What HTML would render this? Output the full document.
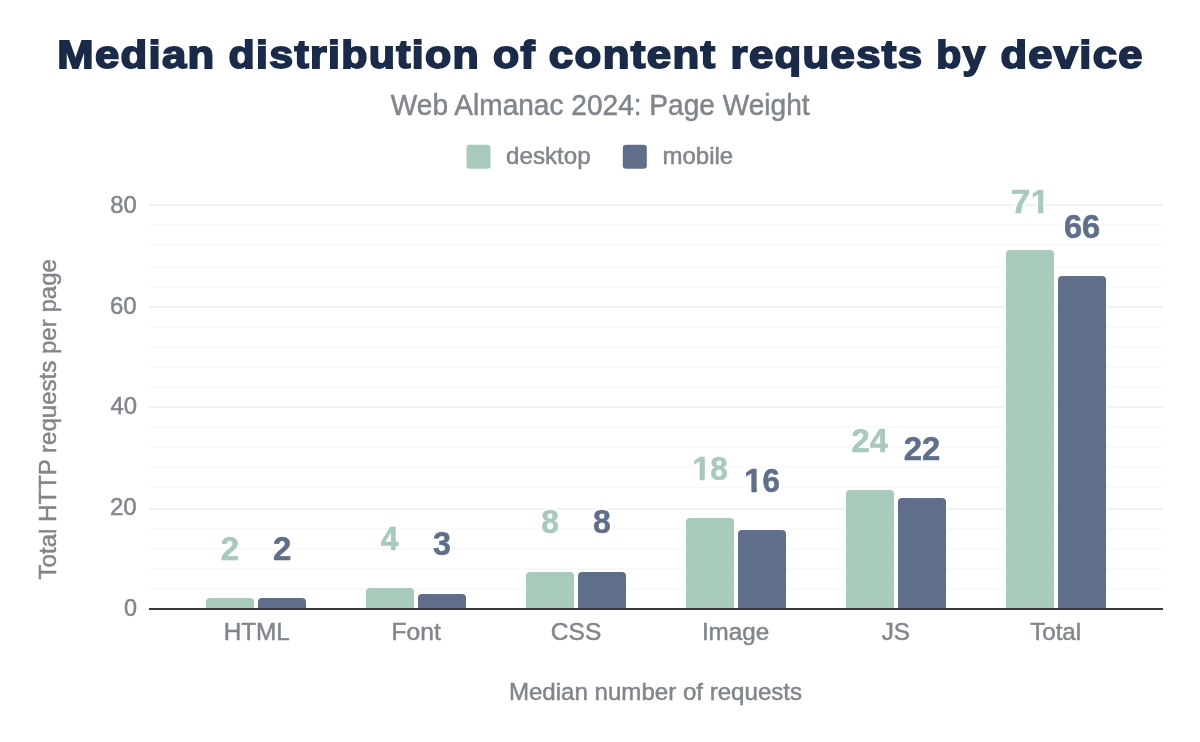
<!DOCTYPE html>
<html lang="en">
<head>
<meta charset="utf-8">
<title>Median distribution of content requests by device</title>
<style>
html,body{margin:0;padding:0;background:#fff;}
body{width:1200px;height:742px;overflow:hidden;font-family:"Liberation Sans",Arial,sans-serif;}
svg{display:block;}
text{font-family:"Liberation Sans",Arial,sans-serif;}
.title{font-size:39px;font-weight:700;fill:#1a2b49;stroke:#1a2b49;stroke-width:1.8px;stroke-linejoin:miter;stroke-miterlimit:3;paint-order:stroke;letter-spacing:1.2px;}
.sub{font-size:28.6px;fill:#80868b;stroke:#80868b;stroke-width:0.5px;}
.t{font-size:24.5px;fill:#80868b;stroke:#80868b;stroke-width:0.5px;}
.dl{font-size:33px;font-weight:700;stroke-width:0.5px;stroke-linejoin:round;}
.d{fill:#a8caba;stroke:#a8caba;}
.m{fill:#5f6f8a;stroke:#5f6f8a;}
.bar{stroke:#fff;stroke-width:2px;paint-order:stroke;}
</style>
</head>
<body>
<svg width="1200" height="742" viewBox="0 0 1200 742" role="img" aria-label="Median distribution of content requests by device">
<defs>
<filter id="halo" x="-30%" y="-30%" width="160%" height="160%" color-interpolation-filters="sRGB">
<feMorphology in="SourceAlpha" operator="dilate" radius="1.5" result="d"/>
<feFlood flood-color="#ffffff" result="w"/>
<feComposite in="w" in2="d" operator="in" result="h"/>
<feMerge><feMergeNode in="h"/><feMergeNode in="SourceGraphic"/></feMerge>
</filter>
</defs>
<rect width="1200" height="742" fill="#ffffff"/>

<text class="title" y="68"><tspan x="57.27" textLength="158.3" lengthAdjust="spacingAndGlyphs">Median</tspan> <tspan x="228.64" textLength="251.34" lengthAdjust="spacingAndGlyphs">distribution</tspan> <tspan x="492.99" textLength="43.04" lengthAdjust="spacingAndGlyphs">of</tspan> <tspan x="548.86" textLength="167.6" lengthAdjust="spacingAndGlyphs">content</tspan> <tspan x="730.6" textLength="192.8" lengthAdjust="spacingAndGlyphs">requests</tspan> <tspan x="936.28" textLength="50.38" lengthAdjust="spacingAndGlyphs">by</tspan> <tspan x="1000.46" textLength="143.31" lengthAdjust="spacingAndGlyphs">device</tspan></text>
<text class="sub" x="390.84" y="115" textLength="418.77" lengthAdjust="spacingAndGlyphs">Web Almanac 2024: Page Weight</text>
<rect x="466.5" y="144.7" width="24" height="24" rx="3" fill="#a8caba"/>
<text class="t" x="506.06" y="164" textLength="84.68" lengthAdjust="spacingAndGlyphs">desktop</text>
<rect x="622.8" y="144.7" width="24" height="24" rx="3" fill="#5f6f8a"/>
<text class="t" x="662.41" y="164" textLength="70.77" lengthAdjust="spacingAndGlyphs">mobile</text>
<g fill="#f9f9f9">
<rect x="149" y="224" width="1014" height="2"/>
<rect x="149" y="244" width="1014" height="2"/>
<rect x="149" y="266" width="1014" height="2"/>
<rect x="149" y="286" width="1014" height="2"/>
<rect x="149" y="326" width="1014" height="2"/>
<rect x="149" y="346" width="1014" height="2"/>
<rect x="149" y="366" width="1014" height="2"/>
<rect x="149" y="386" width="1014" height="2"/>
<rect x="149" y="426" width="1014" height="2"/>
<rect x="149" y="446" width="1014" height="2"/>
<rect x="149" y="466" width="1014" height="2"/>
<rect x="149" y="486" width="1014" height="2"/>
<rect x="149" y="528" width="1014" height="2"/>
<rect x="149" y="548" width="1014" height="2"/>
<rect x="149" y="568" width="1014" height="2"/>
<rect x="149" y="588" width="1014" height="2"/>
</g>
<g fill="#f1f1f1">
<rect x="149" y="204" width="1014" height="2"/>
<rect x="149" y="306" width="1014" height="2"/>
<rect x="149" y="406" width="1014" height="2"/>
<rect x="149" y="508" width="1014" height="2"/>
</g>
<text class="t" x="110.3" y="213" textLength="26.49" lengthAdjust="spacingAndGlyphs">80</text>
<text class="t" x="110.07" y="314" textLength="26.61" lengthAdjust="spacingAndGlyphs">60</text>
<text class="t" x="110.39" y="414" textLength="26.59" lengthAdjust="spacingAndGlyphs">40</text>
<text class="t" x="109.98" y="515" textLength="26.78" lengthAdjust="spacingAndGlyphs">20</text>
<text class="t" x="123.95" y="616" textLength="13.03" lengthAdjust="spacingAndGlyphs">0</text>
<path class="bar" d="M206 609 V602 Q206 598 210 598 H250 Q254 598 254 602 V609 Z" fill="#a8caba"/>
<path class="bar" d="M258 609 V602 Q258 598 262 598 H302 Q306 598 306 602 V609 Z" fill="#5f6f8a"/>
<path class="bar" d="M366 609 V592 Q366 588 370 588 H410 Q414 588 414 592 V609 Z" fill="#a8caba"/>
<path class="bar" d="M418 609 V598 Q418 594 422 594 H462 Q466 594 466 598 V609 Z" fill="#5f6f8a"/>
<path class="bar" d="M526 609 V576 Q526 572 530 572 H570 Q574 572 574 576 V609 Z" fill="#a8caba"/>
<path class="bar" d="M578 609 V576 Q578 572 582 572 H622 Q626 572 626 576 V609 Z" fill="#5f6f8a"/>
<path class="bar" d="M686 609 V522 Q686 518 690 518 H730 Q734 518 734 522 V609 Z" fill="#a8caba"/>
<path class="bar" d="M738 609 V534 Q738 530 742 530 H782 Q786 530 786 534 V609 Z" fill="#5f6f8a"/>
<path class="bar" d="M846 609 V494 Q846 490 850 490 H890 Q894 490 894 494 V609 Z" fill="#a8caba"/>
<path class="bar" d="M898 609 V502 Q898 498 902 498 H942 Q946 498 946 502 V609 Z" fill="#5f6f8a"/>
<path class="bar" d="M1006 609 V254 Q1006 250 1010 250 H1050 Q1054 250 1054 254 V609 Z" fill="#a8caba"/>
<path class="bar" d="M1058 609 V280 Q1058 276 1062 276 H1102 Q1106 276 1106 280 V609 Z" fill="#5f6f8a"/>
<rect x="149" y="608" width="1014" height="2" fill="#37393e"/>
<g filter="url(#halo)">
<text class="dl d" x="220.7" y="560" textLength="18.4" lengthAdjust="spacingAndGlyphs">2</text>
<text class="dl d" x="380.87" y="550" textLength="17.68" lengthAdjust="spacingAndGlyphs">4</text>
<text class="dl d" x="541.18" y="533" textLength="17.67" lengthAdjust="spacingAndGlyphs">8</text>
<text class="dl d" x="851.49" y="452" textLength="36.52" lengthAdjust="spacingAndGlyphs">24</text>
<text class="dl m" x="273.04" y="560" textLength="18.4" lengthAdjust="spacingAndGlyphs">2</text>
<text class="dl m" x="433.05" y="555" textLength="18.01" lengthAdjust="spacingAndGlyphs">3</text>
<text class="dl m" x="592.97" y="533" textLength="17.79" lengthAdjust="spacingAndGlyphs">8</text>
<text class="dl m" x="903.78" y="460" textLength="36.66" lengthAdjust="spacingAndGlyphs">22</text>
<text class="dl m" x="1063.95" y="238" textLength="36.36" lengthAdjust="spacingAndGlyphs">66</text>
<clipPath id="c1"><rect x="689.22" y="448.00" width="41.63" height="28.00"/><rect x="699.57" y="476.00" width="5.23" height="5.50"/><rect x="710.80" y="476.00" width="16.60" height="5.50"/></clipPath><text class="dl d" y="480" clip-path="url(#c1)"><tspan x="692.22">1</tspan><tspan x="710.35" textLength="17.5" lengthAdjust="spacingAndGlyphs">8</tspan></text>
<clipPath id="c2"><rect x="741.12" y="460.00" width="41.90" height="28.00"/><rect x="751.47" y="488.00" width="5.23" height="5.50"/><rect x="763.04" y="488.00" width="16.53" height="5.50"/></clipPath><text class="dl m" y="492" clip-path="url(#c2)"><tspan x="744.12">1</tspan><tspan x="762.59" textLength="17.43" lengthAdjust="spacingAndGlyphs">6</tspan></text>
<clipPath id="c3"><rect x="1007.83" y="181.00" width="44.29" height="28.00"/><rect x="1011.28" y="209.00" width="18.75" height="5.50"/><rect x="1038.07" y="209.00" width="5.23" height="5.50"/></clipPath><text class="dl d" y="213" clip-path="url(#c3)"><tspan x="1010.83" textLength="19.65" lengthAdjust="spacingAndGlyphs">7</tspan><tspan x="1030.72">1</tspan></text>
</g>
<text class="t" x="223.75" y="640" textLength="66.1" lengthAdjust="spacingAndGlyphs">HTML</text>
<text class="t" x="391.59" y="640" textLength="49.16" lengthAdjust="spacingAndGlyphs">Font</text>
<text class="t" x="550.81" y="640" textLength="50.46" lengthAdjust="spacingAndGlyphs">CSS</text>
<text class="t" x="701.89" y="640" textLength="67.32" lengthAdjust="spacingAndGlyphs">Image</text>
<text class="t" x="881.71" y="640" textLength="28.3" lengthAdjust="spacingAndGlyphs">JS</text>
<text class="t" x="1030.13" y="640" textLength="51.08" lengthAdjust="spacingAndGlyphs">Total</text>
<text class="t" x="508.9" y="700" textLength="293.17" lengthAdjust="spacingAndGlyphs">Median number of requests</text>
<text class="t" transform="translate(56.35 579.44) rotate(-90)" x="0" y="0" textLength="320.33" lengthAdjust="spacingAndGlyphs">Total HTTP requests per page</text>
</svg>
</body>
</html>
